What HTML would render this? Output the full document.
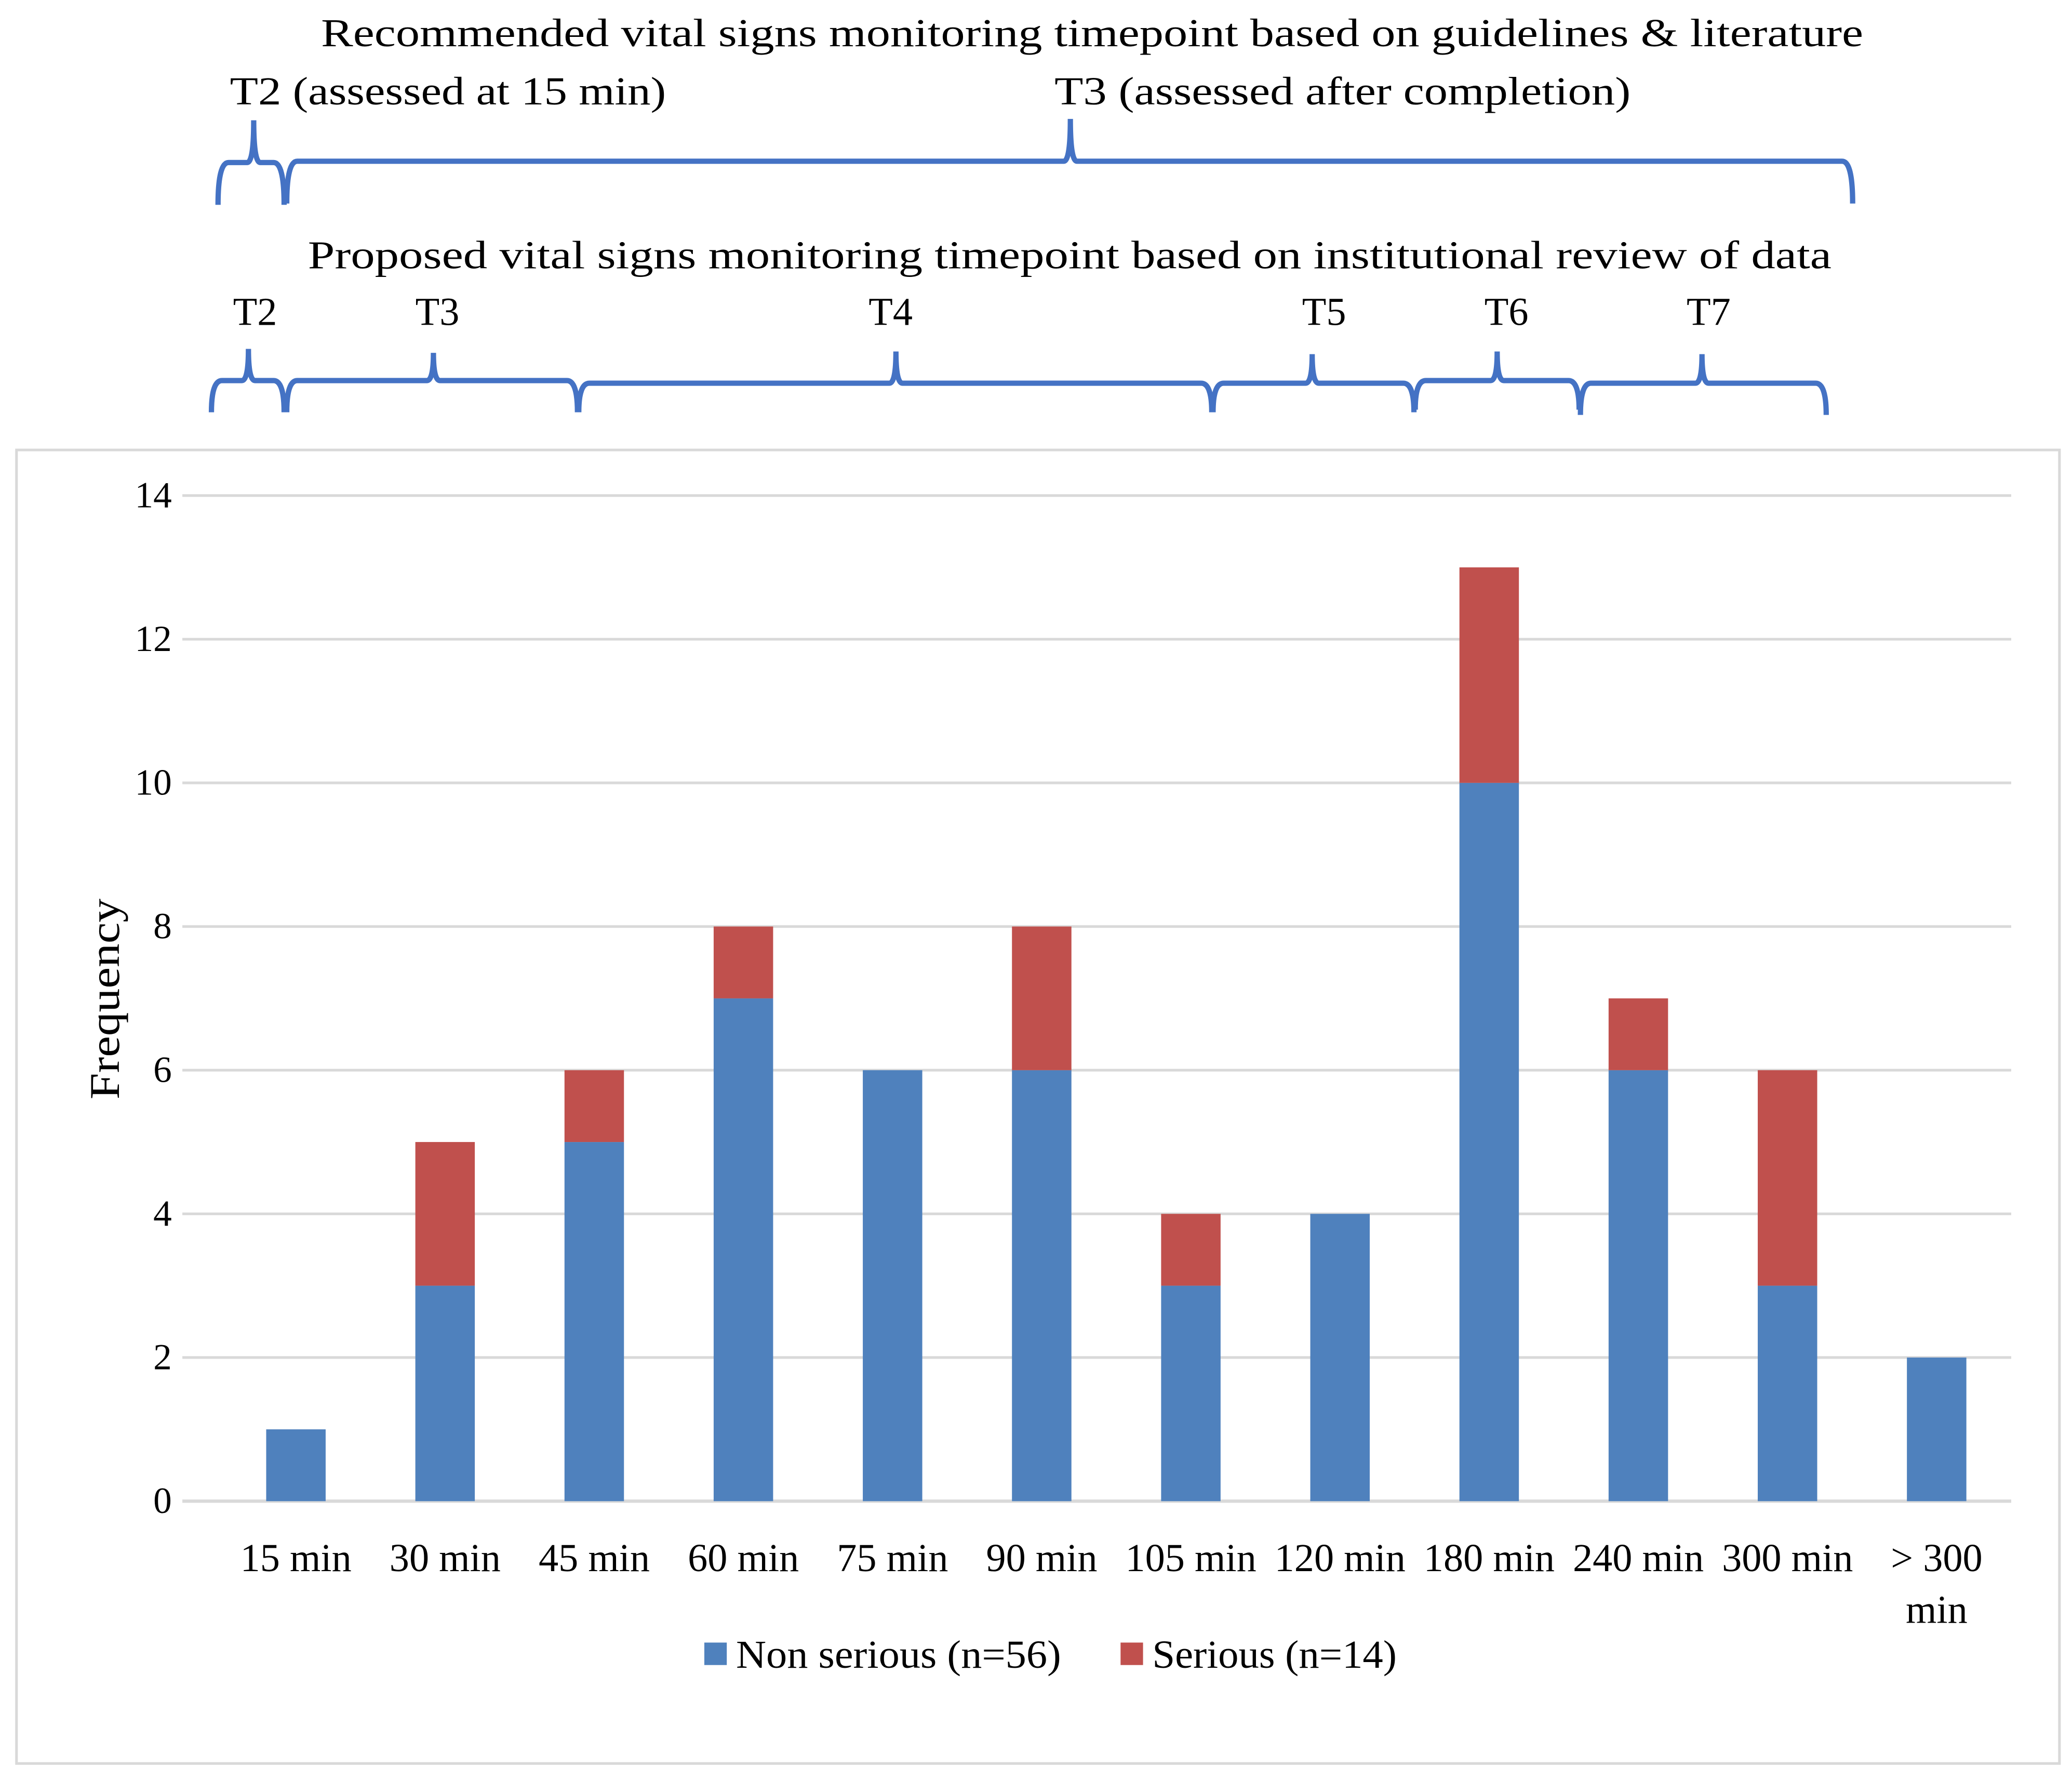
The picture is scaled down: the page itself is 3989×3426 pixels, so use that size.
<!DOCTYPE html>
<html><head><meta charset="utf-8"><style>
html,body{margin:0;padding:0;background:#fff}
svg{display:block}
text{font-family:"Liberation Serif",serif;fill:#000}
</style></head><body>
<svg id="chart" width="3989" height="3426" viewBox="0 0 1568 1347" preserveAspectRatio="none" xmlns="http://www.w3.org/2000/svg">
<rect x="0" y="0" width="1568" height="1347" fill="#fff"/>
<text x="243" y="35" font-size="30" textLength="1167" lengthAdjust="spacingAndGlyphs">Recommended vital signs monitoring timepoint based on guidelines &amp; literature</text>
<text x="174" y="79" font-size="30" textLength="330" lengthAdjust="spacingAndGlyphs">T2 (assessed at 15 min)</text>
<text x="798" y="79" font-size="30" textLength="436" lengthAdjust="spacingAndGlyphs">T3 (assessed after completion)</text>
<text x="233" y="203" font-size="30" textLength="1153" lengthAdjust="spacingAndGlyphs">Proposed vital signs monitoring timepoint based on institutional review of data</text>
<g id="braces"></g>
<g id="ptlabels"></g>
<rect x="12.5" y="340.5" width="1546" height="994" fill="none" stroke="#d9d9d9" stroke-width="2"/>
<g id="grid"></g>
<g id="bars"></g>
<g id="xlabels"></g>
<text transform="translate(90,756) rotate(-90)" text-anchor="middle" font-size="32" textLength="152" lengthAdjust="spacingAndGlyphs">Frequency</text>
<rect x="533" y="1243" width="17" height="17" fill="#4F81BD"/>
<text x="557" y="1262" font-size="30" textLength="246" lengthAdjust="spacingAndGlyphs">Non serious (n=56)</text>
<rect x="848" y="1243" width="17" height="17" fill="#C0504D"/>
<text x="872" y="1262" font-size="30" textLength="185" lengthAdjust="spacingAndGlyphs">Serious (n=14)</text>
</svg>
<script>
const categories=["15 min","30 min","45 min","60 min","75 min","90 min","105 min","120 min","180 min","240 min","300 min","> 300 min"];
const nonSerious=[1,3,5,7,6,6,3,4,10,6,3,2];
const serious=[0,2,1,1,0,2,1,0,3,1,3,0];
const yTicks=[0,2,4,6,8,10,12,14];
const NS="http://www.w3.org/2000/svg";
const gx0=138,x0=167.5,x1=1522,y0=1136,yTop=375,yMax=14;
const band=(x1-x0)/categories.length;
function xs(i){return x0+band*(i+0.5);}
function ys(v){return y0-(y0-yTop)*v/yMax;}
function mk(tag,attrs,parent){const e=document.createElementNS(NS,tag);for(const k in attrs)e.setAttribute(k,attrs[k]);parent.appendChild(e);return e;}
const grid=document.getElementById('grid');
yTicks.forEach(t=>{
  const l=mk('line',{x1:gx0,x2:x1,y1:ys(t),y2:ys(t),stroke:'#d9d9d9','stroke-width':t===0?2.5:2},grid);
  
  
  const tx=mk('text',{x:130,y:ys(t)+9,'text-anchor':'end','font-size':28},grid);
  tx.textContent=t;
  
  
});
const bars=document.getElementById('bars');
const bw=45;
const xl=document.getElementById('xlabels');
categories.forEach((c,i)=>{
  const a=nonSerious[i],b=serious[i];
  const r1=mk('rect',{x:xs(i)-bw/2,y:ys(a),width:bw,height:ys(0)-ys(a),fill:'#4F81BD'},bars);
  
  
  if(b>0){
    const r2=mk('rect',{x:xs(i)-bw/2,y:ys(a+b),width:bw,height:ys(a)-ys(a+b),fill:'#C0504D'},bars);
    
    
  }
  if(c==="> 300 min"){
    const t1=mk('text',{x:xs(i),y:1189,'text-anchor':'middle','font-size':30},xl);t1.textContent="> 300";
    
    
    const t2=mk('text',{x:xs(i),y:1228,'text-anchor':'middle','font-size':30},xl);t2.textContent="min";
    
    
  } else {
    const t=mk('text',{x:xs(i),y:1189,'text-anchor':'middle','font-size':30},xl);t.textContent=c;
    
    
  }
});
const braceG=document.getElementById('braces');
function brace(xa,xb,xm,y,drop,rise){
  const d=`M${xa},${y+drop} Q${xa},${y} ${xa+8},${y} L${xm-5},${y} Q${xm},${y} ${xm},${y-rise} Q${xm},${y} ${xm+5},${y} L${xb-8},${y} Q${xb},${y} ${xb},${y+drop}`;
  const p=mk('path',{d:d,fill:'none',stroke:'#4472C4','stroke-width':4},braceG);
  
  
}
brace(165,215,192,123,32,32);
brace(217,1402,810,122,32,32);
brace(160,215,188,288,24,24);
brace(217,437,328,288,24,21);
brace(438,917,678,290,22,24);
brace(918,1070,993,290,22,22);
brace(1071,1195,1133,288,22,22);
brace(1196,1382,1288,290,24,22);
const pl=document.getElementById('ptlabels');
[["T2",193],["T3",331],["T4",674],["T5",1002],["T6",1140],["T7",1293]].forEach(([s,x])=>{
  const t=mk('text',{x:x,y:246,'text-anchor':'middle','font-size':30},pl);t.textContent=s;
  
  
});
</script>
</body></html>
